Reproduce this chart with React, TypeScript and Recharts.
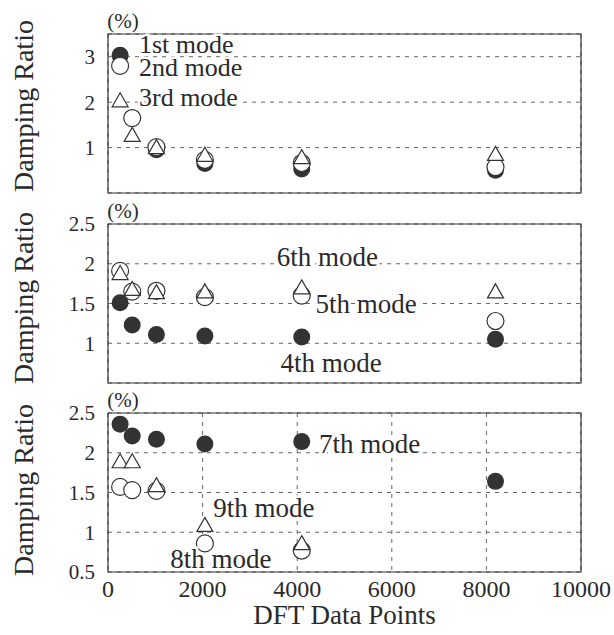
import React from 'react';
import {
  ScatterChart,
  Scatter,
  XAxis,
  YAxis,
  CartesianGrid,
  ReferenceArea,
  ReferenceDot,
} from 'recharts';

// DFT lengths used for every mode
const dftPoints = [256, 512, 1024, 2048, 4096, 8192];
const xTicks = [0, 2000, 4000, 6000, 8000, 10000];

// damping ratio (%) per mode, null where no point was identified
const mode1 = [3.03, null, 0.95, 0.65, 0.53, 0.5];
const mode2 = [2.8, 1.65, 1.01, 0.73, 0.66, 0.57];
const mode3 = [2.0, 1.24, 0.97, 0.8, 0.75, 0.82];

const mode4 = [1.51, 1.23, 1.11, 1.09, 1.08, 1.05];
const mode5 = [1.91, 1.65, 1.66, 1.58, 1.6, 1.28];
const mode6 = [1.86, 1.66, 1.62, 1.63, 1.68, 1.63];

const mode7 = [2.36, 2.21, 2.17, 2.11, 2.14, 1.64];
const mode8 = [1.57, 1.53, 1.52, 0.86, 0.77, null];
const mode9 = [1.87, 1.87, 1.57, 1.07, 0.84, null];

const lowTicks = [0, 1, 2, 3];
const highTicks = [0.5, 1, 1.5, 2, 2.5];

const FONT = '"Liberation Serif", "DejaVu Serif", serif';
const INK = '#2a2a2a';
const serif = { fontFamily: FONT };

type Pt = { x: number; y: number };
const toPoints = (ys: (number | null)[]): Pt[] =>
  dftPoints
    .map((x, i) => ({ x, y: ys[i] }))
    .filter((p) => p.y !== null) as Pt[];

const FilledDot = (p: any) => <circle cx={p.cx} cy={p.cy} r={8.5} fill="#333" />;
const OpenDot = (p: any) => (
  <circle cx={p.cx} cy={p.cy} r={8.5} fill="#fff" stroke="#333" strokeWidth={1.2} />
);
const OpenTriangle = (p: any) => {
  const h = 14;
  const w = 8;
  const { cx, cy } = p;
  return (
    <path
      d={`M${cx},${cy - (2 * h) / 3}L${cx + w},${cy + h / 3}L${cx - w},${cy + h / 3}Z`}
      fill="#fff"
      stroke="#333"
      strokeWidth={1.2}
    />
  );
};

type Note = { text: string; x: number; y: number; anchor: 'start' | 'middle'; size: number };

const notesA: Note[] = [
  { text: '1st mode', x: 655, y: 3.08, anchor: 'start', size: 26 },
  { text: '2nd mode', x: 655, y: 2.58, anchor: 'start', size: 26 },
  { text: '3rd mode', x: 655, y: 1.92, anchor: 'start', size: 26 },
];
const notesB: Note[] = [
  { text: '6th mode', x: 4640, y: 1.97, anchor: 'middle', size: 27 },
  { text: '5th mode', x: 5455, y: 1.38, anchor: 'middle', size: 27 },
  { text: '4th mode', x: 4715, y: 0.64, anchor: 'middle', size: 27 },
];
const notesC: Note[] = [
  { text: '7th mode', x: 4461, y: 2.0, anchor: 'start', size: 27 },
  { text: '9th mode', x: 3298, y: 1.19, anchor: 'middle', size: 27 },
  { text: '8th mode', x: 2389, y: 0.55, anchor: 'middle', size: 27 },
];

interface PanelProps {
  top: number;
  height: number;
  marginTop: number;
  yDomain: [number, number];
  yTicks: number[];
  series: (number | null)[][];
  notes: Note[];
  labelCenter: number;
  showX?: boolean;
}

const PLOT_H = 159;

const Panel: React.FC<PanelProps> = ({
  top,
  height,
  marginTop,
  yDomain,
  yTicks,
  series,
  notes,
  labelCenter,
  showX = false,
}) => {
  const [filled, open, tri] = series;
  const xHeight = showX ? height - marginTop - PLOT_H : 0;
  return (
    <div style={{ position: 'absolute', left: 0, top }}>
      <ScatterChart
        width={614}
        height={height}
        margin={{ top: marginTop, right: 33, bottom: showX ? 0 : height - marginTop - PLOT_H, left: 46 }}
        style={serif}
      >
        <CartesianGrid stroke="#666" strokeDasharray="4 5" />
        <XAxis
          type="number"
          dataKey="x"
          domain={[0, 10000]}
          ticks={xTicks}
          height={xHeight}
          tick={showX ? { fontSize: 24, fill: INK, style: serif } : false}
          tickLine={false}
          axisLine={false}
          tickSize={0}
          tickMargin={8}
          label={
            showX
              ? {
                  value: 'DFT Data Points',
                  content: () => (
                    <text
                      x={344.5}
                      y={height - 11}
                      textAnchor="middle"
                      fontSize={27}
                      style={serif}
                      fill={INK}
                    >
                      DFT Data Points
                    </text>
                  ),
                }
              : undefined
          }
        />
        <YAxis
          type="number"
          dataKey="y"
          domain={yDomain}
          ticks={yTicks}
          width={62}
          tick={{ fontSize: 21, fill: INK, style: serif }}
          tickLine={false}
          axisLine={false}
          tickSize={0}
          tickMargin={13}
          label={{
            value: 'Damping Ratio',
            content: () => (
              <g>
                <text
                  transform={`translate(33, ${labelCenter}) rotate(-90)`}
                  textAnchor="middle"
                  fontSize={28}
                  style={serif}
                  fill={INK}
                >
                  Damping Ratio
                </text>
                <text
                  x={123}
                  y={marginTop - 6}
                  textAnchor="middle"
                  fontSize={21}
                  style={serif}
                  fill={INK}
                >
                  (%)
                </text>
              </g>
            ),
          }}
        />
        <ReferenceArea
          x1={0}
          x2={10000}
          y1={yDomain[0]}
          y2={yDomain[1]}
          fill="none"
          stroke="#333"
          strokeWidth={1.2}
          ifOverflow="visible"
        />
        <Scatter data={toPoints(filled)} shape={FilledDot} isAnimationActive={false} />
        <Scatter data={toPoints(open)} shape={OpenDot} isAnimationActive={false} />
        <Scatter data={toPoints(tri)} shape={OpenTriangle} isAnimationActive={false} />
        {notes.map((n) => (
          <ReferenceDot
            key={n.text}
            x={n.x}
            y={n.y}
            r={0}
            ifOverflow="visible"
            shape={(p: any) => (
              <text
                x={p.cx}
                y={p.cy}
                textAnchor={n.anchor}
                fontSize={n.size}
                style={serif}
                fill={INK}
                stroke="#fff"
                strokeWidth={5}
                paintOrder="stroke"
              >
                {n.text}
              </text>
            )}
          />
        ))}
      </ScatterChart>
    </div>
  );
};

export default function App() {
  return (
    <div style={{ position: 'absolute', left: 0, top: 0, width: 614, height: 635, background: '#fff' }}>
      <Panel
        top={0}
        height={200}
        marginTop={34}
        yDomain={[0, 3.5]}
        yTicks={lowTicks}
        series={[mode1, mode2, mode3]}
        notes={notesA}
        labelCenter={106}
      />
      <Panel
        top={195}
        height={195}
        marginTop={29}
        yDomain={[0.5, 2.5]}
        yTicks={highTicks}
        series={[mode4, mode5, mode6]}
        notes={notesB}
        labelCenter={103}
      />
      <Panel
        top={380}
        height={255}
        marginTop={33}
        yDomain={[0.5, 2.5]}
        yTicks={highTicks}
        series={[mode7, mode8, mode9]}
        notes={notesC}
        labelCenter={110}
        showX
      />
    </div>
  );
}
